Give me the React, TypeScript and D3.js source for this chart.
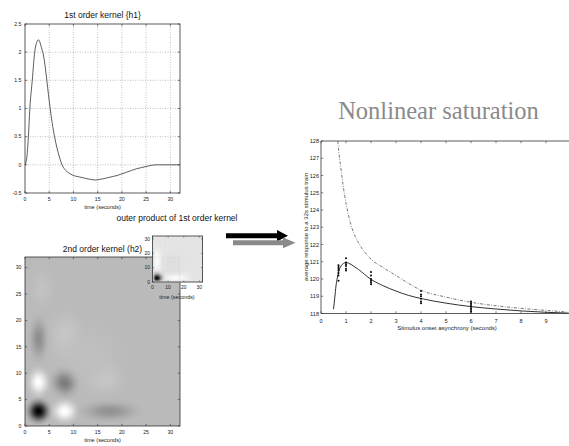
import React from 'react';
import * as d3 from 'd3';

// ---------- 1st order kernel (h1) ----------
const h1Time = [0, 0.4, 0.7, 1.0, 1.5, 2.0, 2.4, 2.75, 3.1, 3.4, 3.8, 4.2, 4.5, 5.2, 5.6, 6.1, 6.6, 7.1, 7.6, 8.2, 9, 10, 11, 12, 13, 14, 14.5, 15, 16, 17, 18, 19, 20, 21, 22, 23, 24, 25, 26, 27, 28, 30, 32];
const h1Value = [0, 0.15, 0.5, 1.0, 1.5, 2.0, 2.17, 2.22, 2.17, 2.08, 1.95, 1.72, 1.5, 1.0, 0.75, 0.5, 0.3, 0.14, 0.01, -0.08, -0.14, -0.19, -0.21, -0.23, -0.25, -0.265, -0.27, -0.265, -0.25, -0.23, -0.21, -0.19, -0.16, -0.13, -0.1, -0.07, -0.05, -0.03, -0.01, 0, 0, 0, 0];
const h1XTicks = [0, 5, 10, 15, 20, 25, 30];
const h1YTicks = [-0.5, 0, 0.5, 1, 1.5, 2, 2.5];
const h1YTickLabels = ['-0.5', '0', '0.5', '1', '1.5', '2', '2.5'];

// ---------- 2nd order kernel (h2): features ----------
const h2Ticks = [0, 5, 10, 15, 20, 25, 30];
const h2BlobT1 = [2.8, 8.2, 2.8, 8.3, 2.8, 17.5, 8.5, 16.5, 3.5, 13];
const h2BlobT2 = [2.8, 2.8, 8.3, 8.3, 16.5, 2.8, 17, 9, 26, 13];
const h2BlobAmp = [-1, 0.62, 0.62, -0.38, -0.24, -0.22, 0.13, 0.13, 0.07, 0.05];
const h2BlobSpreadT1 = [3.0, 3.4, 2.8, 3.6, 2.4, 7.5, 4.5, 5.2, 3.2, 9];
const h2BlobSpreadT2 = [2.8, 2.8, 3.4, 3.4, 5.2, 2.4, 5.8, 4.0, 5.0, 9];

// ---------- outer product inset ----------
const insetTicks = [0, 10, 20, 30];

// ---------- Nonlinear saturation ----------
const soaModel = [0.5, 0.55, 0.6, 0.65, 0.7, 0.8, 0.9, 1.0, 1.1, 1.3, 1.5, 2, 2.5, 3, 3.5, 4, 5, 6, 7, 8, 9, 9.9];
const respModel = [118.25, 118.9, 119.6, 120.05, 120.4, 120.75, 120.9, 120.95, 120.92, 120.75, 120.55, 119.98, 119.6, 119.3, 119.05, 118.87, 118.6, 118.4, 118.26, 118.15, 118.07, 118.02];
const soaLinear = [0.67, 0.72, 0.78, 0.85, 0.95, 1.1, 1.25, 1.5, 1.75, 2, 2.5, 3, 3.5, 4, 5, 6, 7, 8, 9, 9.9];
const respLinear = [128, 127.3, 126.6, 125.8, 124.8, 123.7, 122.9, 122.1, 121.55, 121.15, 120.65, 120.2, 119.75, 119.35, 118.95, 118.65, 118.45, 118.3, 118.18, 118.08];
const soaObs = [0.7, 1, 2, 4, 6];
const respObs = [
  [119.9, 120.2, 120.35, 120.5, 120.6, 120.7, 120.8],
  [120.5, 120.6, 120.75, 120.85, 120.95, 121.2],
  [119.7, 119.8, 119.9, 120.0, 120.2, 120.4],
  [118.6, 118.7, 118.85, 119.0, 119.1, 119.3],
  [118.1, 118.2, 118.3, 118.4, 118.5, 118.6, 118.7],
];
const satXTicks = [0, 1, 2, 3, 4, 5, 6, 7, 8, 9];
const satYTicks = [118, 119, 120, 121, 122, 123, 124, 125, 126, 127, 128];

const SANS = "'Liberation Sans', Arial, sans-serif";
const SERIF = "'Liberation Serif', 'Times New Roman', serif";
const AX = '#333';

function Box({ x0, x1, y0, y1 }: { x0: number; x1: number; y0: number; y1: number }) {
  return <rect x={x0} y={y1} width={x1 - x0} height={y0 - y1} fill="none" stroke={AX} strokeWidth={0.8} />;
}

export default function App() {
  const x1 = d3.scaleLinear().domain([0, 32]).range([25, 180]);
  const y1 = d3.scaleLinear().domain([-0.5, 2.5]).range([193, 24]);
  const x2 = d3.scaleLinear().domain([0, 32]).range([25, 180]);
  const y2 = d3.scaleLinear().domain([0, 32]).range([426, 257]);
  const x3 = d3.scaleLinear().domain([0, 32]).range([152.5, 202.5]);
  const y3 = d3.scaleLinear().domain([0, 32]).range([282, 236]);
  const x4 = d3.scaleLinear().domain([0, 10]).range([321, 571]);
  const y4 = d3.scaleLinear().domain([118, 128]).range([313.5, 141]);

  const h1Line = d3
    .line<number>()
    .x((_, i) => x1(h1Time[i]))
    .y((d) => y1(d))
    .curve(d3.curveMonotoneX);

  const h2Color = d3.scaleLinear<string>().domain([-1, 0, 0.62]).range(['#000000', '#bababa', '#ffffff']);

  const prods: number[] = [];
  h1Value.forEach((a) => h1Value.forEach((b) => prods.push(a * b)));
  const pMin = d3.min(prods) as number;
  const pMax = d3.max(prods) as number;
  const insetColor = d3.scaleLinear<string>().domain([pMin, pMax]).range(['#ffffff', '#000000']);
  const bounds = h1Time.map((t, i) => {
    const lo = i === 0 ? 0 : (h1Time[i - 1] + t) / 2;
    const hi = i === h1Time.length - 1 ? 32 : (t + h1Time[i + 1]) / 2;
    return [lo, hi];
  });

  const modelLine = d3
    .line<number>()
    .x((_, i) => x4(soaModel[i]))
    .y((d) => y4(d))
    .curve(d3.curveMonotoneX);
  const linearLine = d3
    .line<number>()
    .x((_, i) => x4(soaLinear[i]))
    .y((d) => y4(d))
    .curve(d3.curveMonotoneX);

  const profile = [
    [0, 1],
    [0.15, 0.94],
    [0.3, 0.78],
    [0.45, 0.55],
    [0.6, 0.32],
    [0.75, 0.14],
    [0.9, 0.04],
    [1, 0],
  ];

  const tk = 2.2;

  return (
    <svg
      width={569}
      height={446}
      style={{ position: 'absolute', left: 0, top: 0, background: '#fff' }}
      fontFamily={SANS}
    >
      <defs>
        {h2BlobAmp.map((a, i) => (
          <radialGradient key={i} id={`blob${i}`}>
            {profile.map(([o, op]) => (
              <stop key={o} offset={o} stopColor={h2Color(a)} stopOpacity={op} />
            ))}
          </radialGradient>
        ))}
        <clipPath id="h2clip">
          <rect x={x2(0)} y={y2(32)} width={x2(32) - x2(0)} height={y2(0) - y2(32)} />
        </clipPath>
        <clipPath id="satclip">
          <rect x={x4(0)} y={y4(128)} width={x4(10) - x4(0)} height={y4(118) - y4(128)} />
        </clipPath>
      </defs>

      {/* ===== Panel 1: 1st order kernel ===== */}
      <text x={(x1(0) + x1(32)) / 2} y={18} fontSize={8.5} textAnchor="middle" fill="#111">
        1st order kernel {'{h1}'}
      </text>
      {h1XTicks.slice(1).map((t) => (
        <line key={`gx${t}`} x1={x1(t)} x2={x1(t)} y1={y1(-0.5)} y2={y1(2.5)} stroke="#999" strokeWidth={0.6} strokeDasharray="1,1.5" />
      ))}
      {h1YTicks.slice(1, -1).map((t) => (
        <line key={`gy${t}`} x1={x1(0)} x2={x1(32)} y1={y1(t)} y2={y1(t)} stroke="#999" strokeWidth={0.6} strokeDasharray="1,1.5" />
      ))}
      <Box x0={x1(0)} x1={x1(32)} y0={y1(-0.5)} y1={y1(2.5)} />
      {h1XTicks.map((t) => (
        <g key={`tx${t}`}>
          <line x1={x1(t)} x2={x1(t)} y1={y1(-0.5)} y2={y1(-0.5) - tk} stroke={AX} strokeWidth={0.6} />
          <line x1={x1(t)} x2={x1(t)} y1={y1(2.5)} y2={y1(2.5) + tk} stroke={AX} strokeWidth={0.6} />
          <text x={x1(t)} y={201} fontSize={5.2} textAnchor="middle" fill="#222">{t}</text>
        </g>
      ))}
      {h1YTicks.map((t, i) => (
        <g key={`ty${t}`}>
          <line x1={x1(0)} x2={x1(0) + tk} y1={y1(t)} y2={y1(t)} stroke={AX} strokeWidth={0.6} />
          <line x1={x1(32)} x2={x1(32) - tk} y1={y1(t)} y2={y1(t)} stroke={AX} strokeWidth={0.6} />
          <text x={21.5} y={y1(t) + 1.8} fontSize={5.2} textAnchor="end" fill="#222">{h1YTickLabels[i]}</text>
        </g>
      ))}
      <path d={h1Line(h1Value) || ''} fill="none" stroke="#333" strokeWidth={0.8} />
      <text x={(x1(0) + x1(32)) / 2} y={209} fontSize={5.6} textAnchor="middle" fill="#222">time (seconds)</text>

      {/* ===== Panel 2: 2nd order kernel ===== */}
      <text x={(x2(0) + x2(32)) / 2} y={252} fontSize={8.5} textAnchor="middle" fill="#111">
        2nd order kernel (h2)
      </text>
      <g clipPath="url(#h2clip)">
        <rect x={x2(0)} y={y2(32)} width={x2(32) - x2(0)} height={y2(0) - y2(32)} fill={h2Color(0)} />
        {h2BlobAmp.map((a, i) => (
          <ellipse
            key={i}
            cx={x2(h2BlobT1[i])}
            cy={y2(h2BlobT2[i])}
            rx={x2(h2BlobSpreadT1[i]) - x2(0)}
            ry={y2(0) - y2(h2BlobSpreadT2[i])}
            fill={`url(#blob${i})`}
            transform={i === h2BlobAmp.length - 1 ? `rotate(-45, ${x2(h2BlobT1[i])}, ${y2(h2BlobT2[i])})` : undefined}
          />
        ))}
      </g>
      <Box x0={x2(0)} x1={x2(32)} y0={y2(0)} y1={y2(32)} />
      {h2Ticks.map((t) => (
        <g key={`h2x${t}`}>
          <line x1={x2(t)} x2={x2(t)} y1={y2(0)} y2={y2(0) - tk} stroke={AX} strokeWidth={0.6} />
          <line x1={x2(t)} x2={x2(t)} y1={y2(32)} y2={y2(32) + tk} stroke={AX} strokeWidth={0.6} />
          <text x={x2(t)} y={434} fontSize={5.2} textAnchor="middle" fill="#222">{t}</text>
          <line x1={x2(0)} x2={x2(0) + tk} y1={y2(t)} y2={y2(t)} stroke={AX} strokeWidth={0.6} />
          <line x1={x2(32)} x2={x2(32) - tk} y1={y2(t)} y2={y2(t)} stroke={AX} strokeWidth={0.6} />
          <text x={21.5} y={y2(t) + 1.8} fontSize={5.2} textAnchor="end" fill="#222">{t}</text>
        </g>
      ))}
      <text x={(x2(0) + x2(32)) / 2} y={441.5} fontSize={5.6} textAnchor="middle" fill="#222">time (seconds)</text>

      {/* ===== Inset: outer product ===== */}
      <text x={177} y={221} fontSize={8.5} textAnchor="middle" fill="#111">
        outer product of 1st order kernel
      </text>
      <g>
        {h1Value.map((a, i) =>
          h1Value.map((b, j) => (
            <rect
              key={`${i}-${j}`}
              x={x3(bounds[i][0])}
              y={y3(bounds[j][1])}
              width={x3(bounds[i][1]) - x3(bounds[i][0]) + 0.3}
              height={y3(bounds[j][0]) - y3(bounds[j][1]) + 0.3}
              fill={insetColor(a * b)}
            />
          ))
        )}
      </g>
      <Box x0={x3(0)} x1={x3(32)} y0={y3(0)} y1={y3(32)} />
      {insetTicks.map((t) => (
        <g key={`ix${t}`}>
          <line x1={x3(t)} x2={x3(t)} y1={y3(0)} y2={y3(0) - 1.5} stroke={AX} strokeWidth={0.5} />
          <line x1={x3(t)} x2={x3(t)} y1={y3(32)} y2={y3(32) + 1.5} stroke={AX} strokeWidth={0.5} />
          <text x={x3(t)} y={289} fontSize={5} textAnchor="middle" fill="#222">{t}</text>
          <line x1={x3(0)} x2={x3(0) + 1.5} y1={y3(t)} y2={y3(t)} stroke={AX} strokeWidth={0.5} />
          <line x1={x3(32)} x2={x3(32) - 1.5} y1={y3(t)} y2={y3(t)} stroke={AX} strokeWidth={0.5} />
          <text x={150} y={y3(t) + 1.7} fontSize={5} textAnchor="end" fill="#222">{t}</text>
        </g>
      ))}
      <text x={177} y={299} fontSize={5.4} textAnchor="middle" fill="#222">time (seconds)</text>

      {/* ===== Arrows ===== */}
      <path d="M226,233.3 L277,233.3 L277,230 L288,235.7 L277,241.6 L277,238.2 L226,238.2 Z" fill="#000" />
      <path d="M233,240.2 L283,240.2 L283,237.6 L295.5,242.8 L283,248.2 L283,245.2 L233,245.2 Z" fill="#8a8a8a" />

      {/* ===== Nonlinear saturation ===== */}
      <text x={438.5} y={119} fontSize={24.5} fontFamily={SERIF} textAnchor="middle" fill="#8a8a8a">
        Nonlinear saturation
      </text>
      <line x1={x4(0)} x2={x4(0)} y1={y4(118)} y2={y4(128)} stroke={AX} strokeWidth={0.8} />
      <line x1={x4(0)} x2={569} y1={y4(118)} y2={y4(118)} stroke={AX} strokeWidth={0.8} />
      <line x1={x4(0)} x2={569} y1={y4(128)} y2={y4(128)} stroke={AX} strokeWidth={0.8} />
      {satXTicks.map((t) => (
        <g key={`sx${t}`}>
          <line x1={x4(t)} x2={x4(t)} y1={y4(118)} y2={y4(118) - tk} stroke={AX} strokeWidth={0.6} />
          <line x1={x4(t)} x2={x4(t)} y1={y4(128)} y2={y4(128) + tk} stroke={AX} strokeWidth={0.6} />
          <text x={x4(t)} y={322.5} fontSize={5.6} textAnchor="middle" fill="#222">{t}</text>
        </g>
      ))}
      {satYTicks.map((t) => (
        <g key={`sy${t}`}>
          <line x1={x4(0)} x2={x4(0) + tk} y1={y4(t)} y2={y4(t)} stroke={AX} strokeWidth={0.6} />
          <text x={319} y={y4(t) + 2} fontSize={5.6} textAnchor="end" fill="#222">{t}</text>
        </g>
      ))}
      <g clipPath="url(#satclip)">
        <path d={linearLine(respLinear) || ''} fill="none" stroke="#555" strokeWidth={0.8} strokeDasharray="3,1.5,0.8,1.5" />
        <path d={modelLine(respModel) || ''} fill="none" stroke="#1a1a1a" strokeWidth={0.9} />
        {soaObs.map((s, i) =>
          respObs[i].map((r, j) => <circle key={`${i}-${j}`} cx={x4(s)} cy={y4(r)} r={1.0} fill="#000" />)
        )}
      </g>
      <text x={447} y={330} fontSize={6} textAnchor="middle" fill="#222">
        Stimulus onset asynchrony (seconds)
      </text>
      <text transform={`translate(307.5, ${227}) rotate(-90)`} fontSize={6} textAnchor="middle" fill="#222">
        average response to a 32s stimulus train
      </text>
    </svg>
  );
}
